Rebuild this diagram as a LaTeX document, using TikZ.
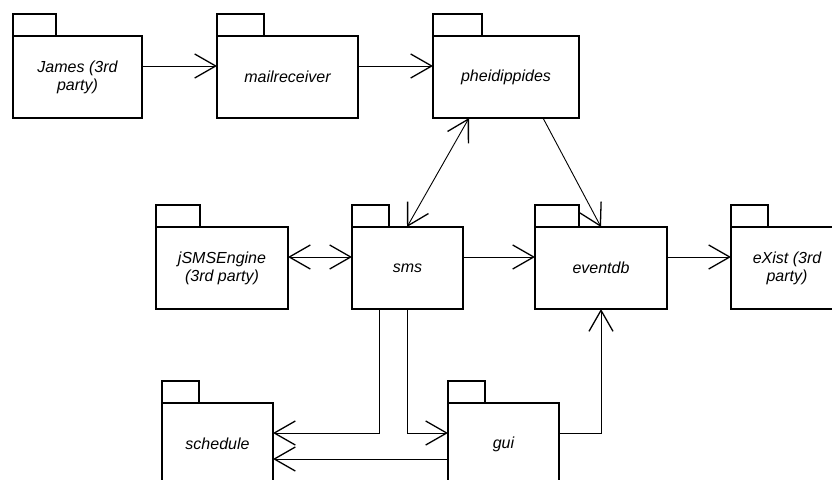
\documentclass[tikz,border=0pt]{standalone}
\usepackage{fontspec}
\setmainfont{Liberation Sans}
\usetikzlibrary{arrows.meta}

\tikzset{
  pkgbody/.style={draw, line width=1.1pt, rectangle, inner sep=0pt, outer sep=0pt,
    minimum height=82pt, align=center,
    font=\fontsize{16}{18}\selectfont\itshape},
  pkgtab/.style={draw, line width=1.1pt},
  barb/.tip={Straight Barb[length=21pt,width=24pt,line width=1.3pt]},
  dep/.style={line width=0.9pt, -barb},
  bidep/.style={line width=0.9pt, barb-barb}
}

% package: name, x, y (top of body), body width, tab width, label
\newcommand\pkgbox[6]{%
  \node[pkgbody, minimum width=#4, anchor=north west] (#1) at (#2,#3) {#6};
  \draw[pkgtab] (#1.north west) rectangle ++(#5,-22);
}

\begin{document}
\begin{tikzpicture}[x={(1pt,0pt)}, y={(0pt,-1pt)}]
  \useasboundingbox (0,0) rectangle (832,479);
  \clip (0,0) rectangle (832,479);

  % top row
  \pkgbox{james}{13}{36}{129pt}{43}{James (3rd\\party)}
  \pkgbox{mail}{217}{36}{141pt}{47}{mailreceiver}
  \pkgbox{pheid}{433}{36}{146pt}{49}{pheidippides}

  % middle row
  \pkgbox{jsms}{156}{227}{132pt}{44}{jSMSEngine\\(3rd party)}
  \pkgbox{sms}{352}{227}{111pt}{37}{sms}
  \pkgbox{eventdb}{535}{227}{132pt}{44}{eventdb}
  \pkgbox{exist}{731}{227}{112pt}{37}{eXist (3rd\\party)}

  % bottom row
  \pkgbox{schedule}{162}{403}{111pt}{37}{schedule}
  \pkgbox{gui}{448}{403}{111pt}{37}{gui}

  % dependencies along the top row
  \draw[dep] ([yshift=-30pt]james.north east) -- ([yshift=-30pt]mail.north west);
  \draw[dep] ([yshift=-30pt]mail.north east) -- ([yshift=-30pt]pheid.north west);

  % pheidippides to the middle row
  \draw[bidep] ([xshift=36pt]pheid.south west) -- ([xshift=55pt]sms.north west);
  \draw[dep] ([xshift=110pt]pheid.south west) -- ([xshift=66pt]eventdb.north west);

  % middle row
  \draw[bidep] ([yshift=-30pt]jsms.north east) -- ([yshift=-30pt]sms.north west);
  \draw[dep] ([yshift=-30pt]sms.north east) -- ([yshift=-30pt]eventdb.north west);
  \draw[dep] ([yshift=-30pt]eventdb.north east) -- ([yshift=-30pt]exist.north west);

  % sms down to schedule and gui
  \draw[dep] ([xshift=27pt]sms.south west) |- ([yshift=-30pt]schedule.north east);
  \draw[dep] ([xshift=55pt]sms.south west) |- ([yshift=-30pt]gui.north west);

  % gui to schedule and eventdb
  \draw[dep] ([yshift=-56pt]gui.north west) -- ([yshift=-56pt]schedule.north east);
  \coordinate (evin) at ([xshift=66pt]eventdb.south west);
  \draw[dep] ([yshift=-30pt]gui.north east) -| (evin);
\end{tikzpicture}
\end{document}
